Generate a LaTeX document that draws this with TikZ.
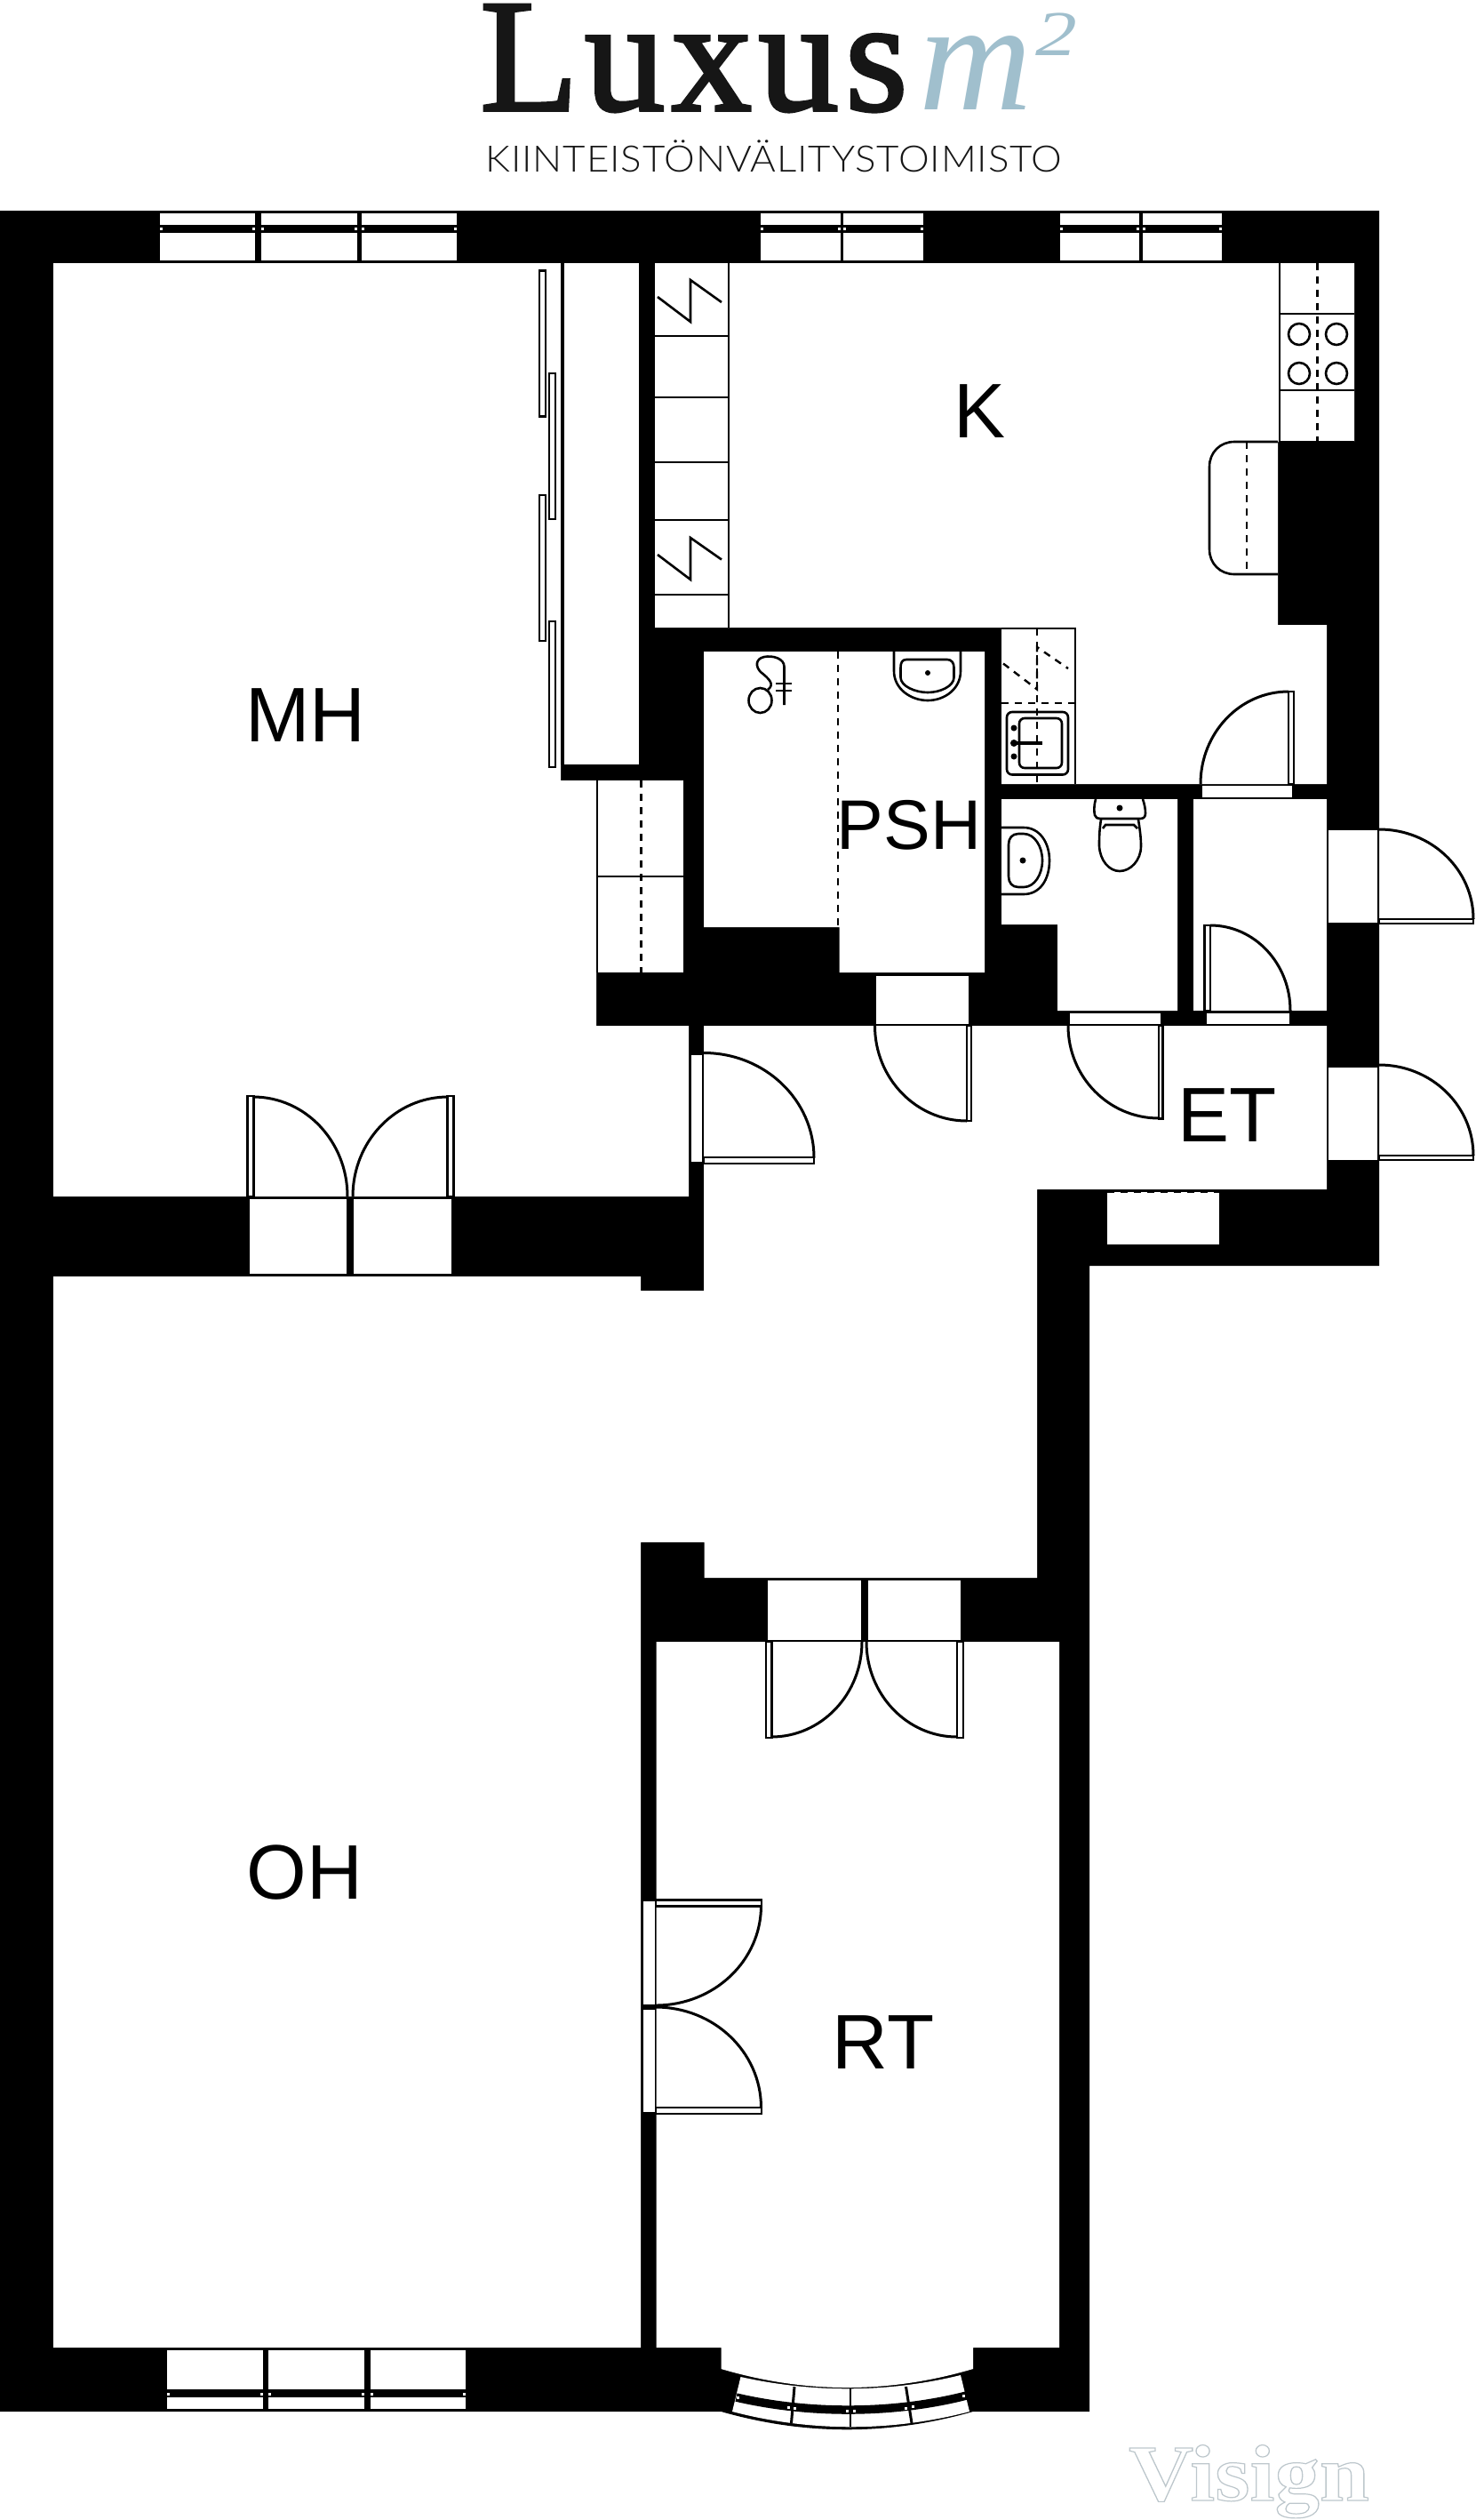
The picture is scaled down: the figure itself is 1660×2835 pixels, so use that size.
\documentclass[tikz,border=0pt]{standalone}
\usepackage{fontspec}
\setmainfont{Liberation Sans}
\newfontfamily\logofont{Liberation Serif}
\newfontfamily\luxusfont[FakeBold=2,LetterSpace=4]{Liberation Serif}
\newfontfamily\subfont[LetterSpace=2]{Lato Light}
\definecolor{logoblue}{HTML}{A0BFCD}
\definecolor{logoblack}{HTML}{161616}
\tikzset{
  thinline/.style={draw=black,line width=2.6pt},
  dashline/.style={draw=black,line width=2.4pt,dash pattern=on 8pt off 7pt},
  swing/.style={draw=black,line width=3pt},
  leaf/.style={draw=black,fill=white,line width=2.4pt},
  sillbox/.style={fill=white},
  roomlabel/.style={inner sep=0pt,anchor=base,font=\fontsize{87}{87}\selectfont},
}
\begin{document}
\begin{tikzpicture}[x=1pt,y=-1pt]
\useasboundingbox (0,0) rectangle (1660,2835);

%outer walls
\fill[black] (0,237) -- (1552,237) -- (1552,1424) -- (1226,1424) -- (1226,2713) -- (1095,2713)
  .. controls (1000,2740) and (906,2740) .. (811.5,2713) -- (0,2713) -- cycle;

%rooms
\fill[white] (60,296) -- (631,296) -- (631,878) -- (671,878) -- (671,1154) -- (775,1154) -- (775,1346) -- (60,1346) -- cycle; %MH
\fill[white] (60,1436) -- (721,1436) -- (721,1452) -- (792,1452) -- (792,1154) -- (1493,1154) -- (1493,1338) -- (1167,1338)
  -- (1167,1775) -- (792.5,1775) -- (792.5,1735) -- (721,1735) -- (721,2641) -- (60,2641) -- cycle; %OH and ET
\fill[white] (738.5,1847) -- (1192,1847) -- (1192,2641) -- (1095,2641) -- (1095,2665)
  .. controls (1000,2693) and (906,2693) .. (811.5,2665) -- (811.5,2641) -- (738.5,2641) -- cycle; %RT
\fill[white] (737,296) -- (1524,296) -- (1524,497) -- (1438,497) -- (1438,703) -- (1493,703) -- (1493,882)
  -- (1127,882) -- (1127,706) -- (737,706) -- cycle; %K
\fill[white] (792,733) -- (1108,733) -- (1108,1094) -- (944.5,1094) -- (944.5,1043) -- (792,1043) -- cycle; %PSH
\fill[white] (1127,899) -- (1325,899) -- (1325,1137) -- (1190,1137) -- (1190,1040) -- (1127,1040) -- cycle; %WC
\fill[white] (1343,899) -- (1493,899) -- (1493,1137) -- (1343,1137) -- cycle; %closet
\fill[white] (631,296) rectangle (719,860); %wardrobe
\fill[white] (672,878) rectangle (769,1094); %cabinet
\fill[white] (1246,1341) rectangle (1371.5,1400); %niche

%top windows
\fill[sillbox] (180,240) rectangle (287,293);
\fill[sillbox] (293.5,240) rectangle (401.5,293);
\fill[sillbox] (406.5,240) rectangle (514,293);
\fill[sillbox] (856,240) rectangle (946,293);
\fill[sillbox] (949,240) rectangle (1039,293);
\fill[sillbox] (1193,240) rectangle (1282,293);
\fill[sillbox] (1286,240) rectangle (1375,293);
\fill[black] (180,252.5) rectangle (514,261.5);
\fill[black] (856,252.5) rectangle (1039,261.5);
\fill[black] (1193,252.5) rectangle (1375,261.5);
%window dots
\fill[sillbox] (180,255.5) rectangle (183,258.5);
\fill[sillbox] (284,255.5) rectangle (287,258.5);
\fill[sillbox] (293.5,255.5) rectangle (296.5,258.5);
\fill[sillbox] (398.5,255.5) rectangle (401.5,258.5);
\fill[sillbox] (406.5,255.5) rectangle (409.5,258.5);
\fill[sillbox] (511,255.5) rectangle (514,258.5);
\fill[sillbox] (856,255.5) rectangle (859,258.5);
\fill[sillbox] (943,255.5) rectangle (946,258.5);
\fill[sillbox] (949,255.5) rectangle (952,258.5);
\fill[sillbox] (1036,255.5) rectangle (1039,258.5);
\fill[sillbox] (1193,255.5) rectangle (1196,258.5);
\fill[sillbox] (1279,255.5) rectangle (1282,258.5);
\fill[sillbox] (1286,255.5) rectangle (1289,258.5);
\fill[sillbox] (1372,255.5) rectangle (1375,258.5);

%bottom window
\fill[sillbox] (187.5,2644) rectangle (296,2710);
\fill[sillbox] (302,2644) rectangle (410,2710);
\fill[sillbox] (417,2644) rectangle (524,2710);
\fill[black] (187.5,2688) rectangle (524,2697);
\fill[sillbox] (187.5,2691.5) rectangle (190.5,2694.5);
\fill[sillbox] (293,2691.5) rectangle (296,2694.5);
\fill[sillbox] (302,2691.5) rectangle (305,2694.5);
\fill[sillbox] (407,2691.5) rectangle (410,2694.5);
\fill[sillbox] (417,2691.5) rectangle (420,2694.5);
\fill[sillbox] (521,2691.5) rectangle (524,2694.5);

%bay window
\fill[sillbox] (833.5,2674) .. controls (915,2692) and (999,2692) .. (1081,2672) -- (1091,2713)
  .. controls (1003,2736) and (912,2736) .. (824,2713) -- cycle;
\draw[black,line width=9.5pt] (828.5,2697) .. controls (910,2716) and (1005,2716) .. (1087.5,2695);
\draw[black,line width=3pt] (894,2685) -- (890.5,2726);
\draw[black,line width=2.4pt] (957,2687) -- (957,2730);
\draw[black,line width=3pt] (1019.5,2685) -- (1026,2726);
\fill[sillbox] (829,2695.5) rectangle (832,2698.5);
\fill[sillbox] (885.5,2707) rectangle (888.5,2710);
\fill[sillbox] (893,2707.5) rectangle (896,2710.5);
\fill[sillbox] (952,2711) rectangle (955,2714);
\fill[sillbox] (959.5,2711) rectangle (962.5,2714);
\fill[sillbox] (1017.5,2707.5) rectangle (1020.5,2710.5);
\fill[sillbox] (1025.5,2706) rectangle (1028.5,2709);
\fill[sillbox] (1083,2694) rectangle (1086,2697);

%door openings
\fill[sillbox] (281,1349) rectangle (390,1433);
\fill[sillbox] (398,1349) rectangle (508,1433);
\fill[sillbox] (863.5,1778) rectangle (968.5,1844.5);
\fill[sillbox] (977,1778) rectangle (1081,1844.5);
\fill[sillbox] (723.5,2138.5) rectangle (736.5,2254.5);
\fill[sillbox] (723.5,2261) rectangle (736.5,2376);
\fill[sillbox] (777.5,1186.5) rectangle (790,1307);
\fill[sillbox] (986,1098) rectangle (1090,1152);
\fill[sillbox] (1204,1140) rectangle (1306,1152);
\fill[sillbox] (1357.5,1140) rectangle (1451,1152);
\fill[sillbox] (1353,884) rectangle (1454,897);
\fill[sillbox] (1495,934) rectangle (1550,1038);
\fill[sillbox] (1495,1201) rectangle (1550,1305);

%doors
\filldraw[leaf] (278.5,1233) rectangle (285.5,1346);
\draw[swing] (285,1234) arc[start angle=-90,end angle=0,x radius=106,y radius=112];
\filldraw[leaf] (503.5,1233) rectangle (510.5,1346);
\draw[swing] (504,1234) arc[start angle=-90,end angle=-180,x radius=107,y radius=112];
\filldraw[leaf] (862,1847) rectangle (868.5,1955);
\draw[swing] (868,1954) arc[start angle=90,end angle=0,x radius=102,y radius=107];
\filldraw[leaf] (1077,1847) rectangle (1084,1955);
\draw[swing] (1077,1954) arc[start angle=90,end angle=180,x radius=102,y radius=107];
\filldraw[leaf] (738,2137.5) rectangle (857,2144.5);
\draw[swing] (856.5,2144) arc[start angle=0,end angle=90,x radius=118.5,y radius=112];
\filldraw[leaf] (738,2371) rectangle (857,2378);
\draw[swing] (738,2258) arc[start angle=-90,end angle=0,x radius=118.5,y radius=113];
\filldraw[leaf] (792,1302) rectangle (916,1309);
\draw[swing] (792,1184.5) arc[start angle=-90,end angle=0,x radius=124,y radius=118];
\filldraw[leaf] (1088,1154) rectangle (1093,1261);
\draw[swing] (1088,1261) arc[start angle=90,end angle=180,x radius=103.5,y radius=107];
\filldraw[leaf] (1304,1154) rectangle (1308.5,1258.5);
\draw[swing] (1304,1258) arc[start angle=90,end angle=180,x radius=102,y radius=104];
\filldraw[leaf] (1355.5,1041) rectangle (1362,1137);
\draw[swing] (1362,1041) arc[start angle=-90,end angle=0,x radius=90,y radius=96];
\filldraw[leaf] (1450,778) rectangle (1456,882);
\draw[swing] (1450,778) arc[start angle=-90,end angle=-180,x radius=99,y radius=104];
\filldraw[leaf] (1552,1034) rectangle (1658,1039);
\draw[swing] (1552,933) arc[start angle=-90,end angle=0,x radius=106,y radius=101];
\filldraw[leaf] (1552,1300) rectangle (1658,1305);
\draw[swing] (1552,1198) arc[start angle=-90,end angle=0,x radius=106,y radius=102];

%sliding doors
\filldraw[leaf] (607,304.5) rectangle (614,468.5);
\filldraw[leaf] (618,420) rectangle (625,584);
\filldraw[leaf] (607,557) rectangle (614,721);
\filldraw[leaf] (618,699) rectangle (625,863);
\draw[black,line width=4pt] (633,296) -- (633,860);

%shelves in K
\draw[thinline] (820,296) -- (820,706);
\draw[thinline] (737,378) -- (820,378);
\draw[thinline] (737,447) -- (820,447);
\draw[thinline] (737,520) -- (820,520);
\draw[thinline] (737,585) -- (820,585);
\draw[thinline] (737,669) -- (820,669);
\draw[thinline] (740,334) -- (777,362) -- (777,315) -- (812,340);
\draw[thinline] (740,624) -- (777,652) -- (777,605) -- (812,629.5);

%stove counter
\draw[thinline] (1440,296) -- (1440,497) -- (1524,497);
\draw[thinline] (1440,353) -- (1524,353);
\draw[thinline] (1440,439) -- (1524,439);
\draw[dashline] (1482.5,296) -- (1482.5,497);
\draw[thinline] (1462,376) circle (12);
\draw[thinline] (1504,376) circle (12);
\draw[thinline] (1462,420) circle (12);
\draw[thinline] (1504,420) circle (12);

%fridge
\draw[thinline] (1438,497) -- (1389,497) .. controls (1373,497) and (1361,509) .. (1361,525) -- (1361,618)
  .. controls (1361,634) and (1373,646) .. (1389,646) -- (1438,646);
\draw[dashline] (1403,497) -- (1403,646);

%sink unit
\draw[thinline] (1127,707) -- (1210,707) -- (1210,882);
\draw[dashline] (1167,707) -- (1167,882);
\draw[dashline] (1127,791) -- (1210,791);
\draw[dashline] (1129,746.5) -- (1167,775.5) -- (1167,728) -- (1202,752);
\draw[thinline,rounded corners=6pt] (1133,801) rectangle (1202,871.5);
\draw[thinline,rounded corners=6pt] (1147,808) rectangle (1195,864);
\draw[black,line width=4pt] (1138,836) -- (1173,836);
\fill[black] (1141,819) circle (3.5);
\fill[black] (1141,836) circle (4);
\fill[black] (1141,851) circle (3.5);

%bathroom
\draw[dashline] (943,733) -- (943,1043);
\draw[thinline] (1006,733) -- (1006,755) .. controls (1006,775) and (1025,788) .. (1044,788) .. controls (1063,788) and (1081,775) .. (1081,755) -- (1081,733);
\draw[thinline] (1020,742) -- (1066,742) .. controls (1071,742) and (1073.5,746) .. (1073.5,751) -- (1073.5,762)
  .. controls (1073.5,772) and (1058,779) .. (1044,779) .. controls (1030,779) and (1013.5,772) .. (1013.5,762) -- (1013.5,751) .. controls (1013.5,746) and (1015,742) .. (1020,742) -- cycle;
\fill[black] (1044,757) circle (3);
%shower
\draw[thinline] (882.5,793) -- (882.5,750) .. controls (882.5,741) and (870,737) .. (860,739) .. controls (850,741) and (850,750) .. (856,756) .. controls (866,764) and (872,770) .. (864,776);
\draw[thinline] (855.5,788) ellipse (13 and 14);
\draw[thinline] (873,769) -- (891,769);
\draw[thinline] (873,777) -- (891,777);

%WC
\draw[thinline] (1233,899) .. controls (1231,906) and (1231,913) .. (1232,917) .. controls (1233,920) and (1235,921) .. (1238,921) -- (1283,921)
  .. controls (1287,921) and (1289,919) .. (1289,915) .. controls (1289,910) and (1288,905) .. (1286,899);
\draw[thinline] (1239,922) .. controls (1237,935) and (1237,943) .. (1237,952) .. controls (1238,968) and (1248,980) .. (1260,980)
  .. controls (1272,980) and (1284,968) .. (1284,952) .. controls (1284,943) and (1283,935) .. (1281,922);
\draw[thinline] (1241,932) -- (1244,928) -- (1276,928) -- (1280,932);
\fill[black] (1260,909) circle (3.5);
\draw[thinline] (1127,931) -- (1152,931) .. controls (1170,931) and (1181,948) .. (1181,968) .. controls (1181,990) and (1170,1006) .. (1152,1006) -- (1127,1006);
\draw[thinline] (1135,950) .. controls (1135,943) and (1139,938) .. (1146,938) -- (1152,938) .. controls (1164,938) and (1173,952) .. (1173,968)
  .. controls (1173,984) and (1164,998) .. (1152,998) -- (1146,998) .. controls (1139,998) and (1135,993) .. (1135,986) -- cycle;
\fill[black] (1151,968) circle (3.5);

%cabinet
\draw[thinline] (672,878) -- (672,1094);
\draw[thinline] (672,986) -- (769,986);
\draw[dashline] (721.5,878) -- (721.5,1094);

%niche
\draw[dashline] (1246,1341) -- (1372,1341);

%room names
\node[roomlabel] (mh) at (344,834) {MH};
\node[roomlabel] (kitchen) at (1103,492) {K};
\node[roomlabel,font=\fontsize{79}{79}\selectfont] (psh) at (1023,955) {PSH};
\node[roomlabel] (et) at (1381,1284.5) {ET};
\node[roomlabel] (oh) at (343,2136) {OH};
\node[roomlabel] (rt) at (994,2327) {RT};

%logo
\node[inner sep=0pt,anchor=base west,text=logoblack,font=\fontsize{181}{181}\luxusfont\selectfont] (luxus) at (540,124) {Luxus};
\node[inner sep=0pt,anchor=base west,text=logoblue,font=\fontsize{176}{176}\logofont\itshape\selectfont] (emm) at (1034,123) {m};
\node[inner sep=0pt,anchor=base west,text=logoblue,xscale=1.3,transform shape,font=\fontsize{72}{72}\logofont\itshape\selectfont] (two) at (1165,62) {2};
\node[inner sep=0pt,anchor=base,text=logoblack,xscale=1.07,transform shape,font=\fontsize{41}{41}\subfont\selectfont] (agency) at (871,193) {KIINTEISTÖNVÄLITYSTOIMISTO};

%signature
\node[inner sep=0pt,anchor=base west,xscale=1.12,transform shape,font=\fontsize{90}{90}\logofont\bfseries\selectfont] (visign) at (1270,2813) {\special{pdf:code 1 Tr 1.2 w 0.74 0.78 0.8 RG}Visign\special{pdf:code 0 Tr}};

\end{tikzpicture}
\end{document}
